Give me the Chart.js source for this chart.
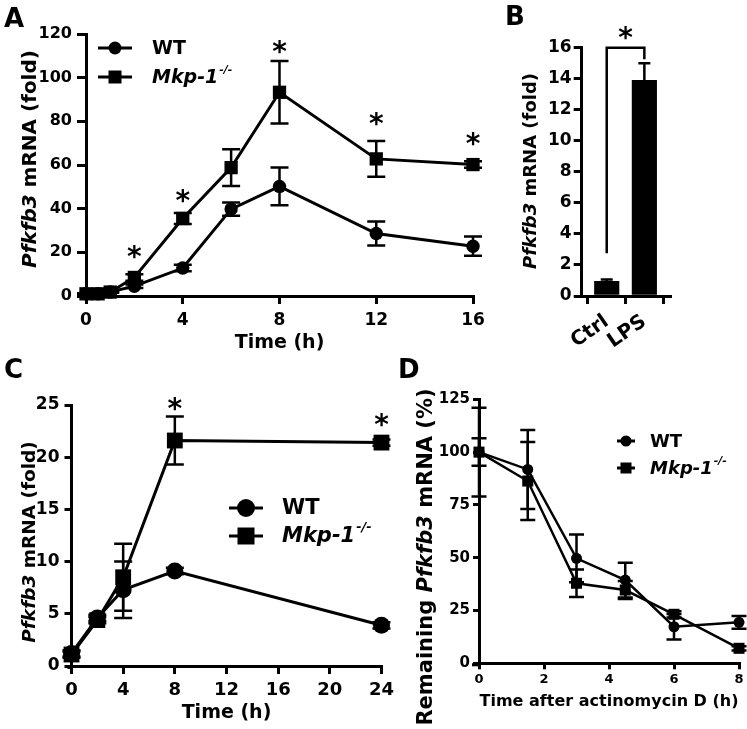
<!DOCTYPE html>
<html><head><meta charset="utf-8">
<script src="https://cdn.jsdelivr.net/npm/chart.js@4.4.0/dist/chart.umd.min.js"></script>
<style>
html,body{margin:0;padding:0;background:#fff;}
body{width:747px;height:729px;position:relative;overflow:hidden;font-family:"DejaVu Sans",sans-serif;}
canvas{position:absolute;}
.t{position:absolute;font-weight:bold;color:#000;white-space:nowrap;line-height:1;}
.rot{transform:translate(-50%,-50%) rotate(-90deg);transform-origin:center center;}
.letter{font-size:26px;}
</style></head><body>
<canvas id="cA" width="500" height="365" style="left:0;top:0"></canvas>
<canvas id="cB" width="247" height="365" style="left:500px;top:0"></canvas>
<canvas id="cC" width="400" height="364" style="left:0;top:365px"></canvas>
<canvas id="cD" width="347" height="364" style="left:400px;top:365px"></canvas>

<div class="t letter" style="left:4px;top:5px">A</div>
<div class="t letter" style="left:505px;top:3px">B</div>
<div class="t letter" style="left:4px;top:356px">C</div>
<div class="t letter" style="left:398px;top:356px">D</div>

<div class="t rot" style="left:29px;top:159px;font-size:20px"><i>Pfkfb3</i> mRNA (fold)</div>
<div class="t rot" style="left:530px;top:171px;font-size:18px"><i>Pfkfb3</i> mRNA (fold)</div>
<div class="t rot" style="left:29px;top:542px;font-size:18.5px"><i>Pfkfb3</i> mRNA (fold)</div>
<div class="t rot" style="left:425px;top:557px;font-size:21px">Remaining <i>Pfkfb3</i> mRNA (%)</div>

<script>
// ---------- DATA ----------
// Panel A
const timeA = [0, 0.5, 1, 2, 4, 6, 8, 12, 16];
const wtA = [1, 1, 1.8, 4.5, 12.8, 39.8, 50.2, 28.6, 22.8];
const wtErrA = [0.2, 0.2, 0.3, 0.8, 1.5, 3.0, 8.6, 5.5, 4.4];
const koA = [1, 1, 1.8, 8.5, 35.5, 58.8, 93.3, 62.8, 60.2];
const koErrA = [0.2, 0.2, 0.3, 1.5, 2.5, 8.4, 14.3, 8.2, 1.5];
const sigTimeA = [2, 4, 8, 12, 16];
const sigYA = [20.6, 46.6, 114.6, 81.5, 72.3];
const xTicksA = [0, 4, 8, 12, 16];
const yTicksA = [0, 20, 40, 60, 80, 100, 120];

// Panel B
const categoriesB = ['Ctrl', 'LPS'];
const valuesB = [0.95, 13.9];
const errB = [0.12, 1.1];
const bracketB = [2.75, 16, 15.25]; // left foot, top, right foot
const sigYB = 17.0;
const yTicksB = [0, 2, 4, 6, 8, 10, 12, 14, 16];

// Panel C
const timeC = [0, 2, 4, 8, 24];
const wtC = [1.2, 4.6, 7.3, 9.1, 3.9];
const wtErrC = [0.3, 0.3, 2.7, 0.3, 0.3];
const koC = [1.1, 4.4, 8.5, 21.6, 21.4];
const koErrC = [0.3, 0.3, 3.2, 2.3, 0.3];
const sigTimeC = [8, 24];
const sigYC = [25.2, 23.7];
const xTicksC = [0, 4, 8, 12, 16, 20, 24];
const yTicksC = [0, 5, 10, 15, 20, 25];

// Panel D
const timeD = [0, 1.5, 3, 4.5, 6, 8];
const wtD = [100, 91.8, 49.7, 39.4, 17.3, 19.4];
const wtErrD = [6.5, 18.7, 11.3, 8.2, 6.0, 3.0];
const koD = [100, 86.3, 37.9, 34.7, 23.2, 7.1];
const koErrD = [21, 18.5, 6.5, 4.3, 1.5, 1.0];
const xTicksD = [0, 2, 4, 6, 8];
const yTicksD = [0, 25, 50, 75, 100, 125];

const seriesNames = ['WT', 'Mkp-1'];
const koSup = '-/-';

// ---------- HELPERS ----------
const FAM = 'DejaVu Sans';
const BLACK = '#000';
function pts(xs, ys) { return xs.map((x, i) => ({x: x, y: ys[i]})); }

const errbars = {
  id: 'errbars',
  _draw(chart, o) {
    const {ctx} = chart; const xs = chart.scales.x, ys = chart.scales.y;
    ctx.save(); ctx.strokeStyle = BLACK; ctx.lineWidth = o.lineWidth; ctx.lineCap = 'butt';
    chart.data.datasets.forEach(ds => {
      if (!ds.err) return;
      ds.data.forEach((p, j) => {
        const e = ds.err[j]; if (!e) return;
        const px = xs.getPixelForValue(p.x);
        const top = ys.getPixelForValue(p.y + e);
        const bot = ys.getPixelForValue(o.upperOnly ? p.y : p.y - e);
        ctx.beginPath();
        ctx.moveTo(px, bot); ctx.lineTo(px, top);
        ctx.moveTo(px - o.cap, top); ctx.lineTo(px + o.cap, top);
        if (!o.upperOnly) { ctx.moveTo(px - o.cap, bot); ctx.lineTo(px + o.cap, bot); }
        ctx.stroke();
      });
    });
    ctx.restore();
  },
  beforeDatasetsDraw(chart, args, o) { if (o && o.lineWidth && !o.after) this._draw(chart, o); },
  afterDatasetsDraw(chart, args, o) { if (o && o.lineWidth && o.after) this._draw(chart, o); }
};

// short extension of the x axis line to the left of the y axis (GraphPad style)
const axisExt = {
  id: 'axisExt',
  afterDraw(chart, args, o) {
    if (!o || !o.len) return;
    const {ctx, chartArea} = chart;
    ctx.save(); ctx.strokeStyle = BLACK; ctx.lineWidth = 3;
    ctx.beginPath(); ctx.moveTo(chartArea.left - o.len, chartArea.bottom + 1.5); ctx.lineTo(chartArea.left, chartArea.bottom + 1.5); ctx.stroke();
    ctx.restore();
  }
};

const sigmarks = {
  id: 'sigmarks',
  afterDraw(chart, args, o) {
    if (!o || !o.xs) return;
    const {ctx} = chart; const xs = chart.scales.x, ys = chart.scales.y;
    ctx.save(); ctx.fillStyle = BLACK; ctx.font = 'bold ' + o.size + 'px "' + FAM + '"';
    ctx.textAlign = 'center'; ctx.textBaseline = 'alphabetic';
    o.xs.forEach((x, i) => {
      const px = xs.getPixelForValue(x), py = ys.getPixelForValue(o.ys[i]);
      ctx.fillText('*', px, py + 0.545 * o.size);
    });
    ctx.restore();
  }
};

function drawMarker(ctx, style, x, y, r) {
  ctx.beginPath();
  if (style === 'circle') ctx.arc(x, y, r, 0, Math.PI * 2);
  else ctx.rect(x - r, y - r, 2 * r, 2 * r);
  ctx.fill();
}

const lineLegend = {
  id: 'lineLegend',
  afterDraw(chart, args, o) {
    if (!o || !o.items) return;
    const {ctx} = chart;
    ctx.save(); ctx.fillStyle = BLACK; ctx.strokeStyle = BLACK;
    o.items.forEach((it, i) => {
      ctx.lineWidth = o.lineWidth;
      ctx.beginPath(); ctx.moveTo(o.x1, it.y); ctx.lineTo(o.x2, it.y); ctx.stroke();
      drawMarker(ctx, it.style, (o.x1 + o.x2) / 2, it.y, it.r);
      ctx.textBaseline = 'middle'; ctx.textAlign = 'left';
      if (i === 0) {
        ctx.font = 'bold ' + o.size + 'px "' + FAM + '"';
        ctx.fillText(seriesNames[0], o.tx, it.y + 1);
      } else {
        ctx.font = 'italic bold ' + o.size + 'px "' + FAM + '"';
        ctx.fillText(seriesNames[1], o.tx, it.y + 1);
        const w = ctx.measureText(seriesNames[1]).width;
        ctx.font = 'italic bold ' + Math.round(o.size * 0.6) + 'px "' + FAM + '"';
        ctx.fillText(koSup, o.tx + w + 1, it.y - o.size * 0.38);
      }
    });
    ctx.restore();
  }
};

const bracket = {
  id: 'bracket',
  afterDraw(chart, args, o) {
    if (!o || !o.on) return;
    const {ctx} = chart; const xs = chart.scales.x, ys = chart.scales.y;
    const x1 = xs.getPixelForValue(1), x2 = xs.getPixelForValue(2);
    ctx.save(); ctx.strokeStyle = BLACK; ctx.lineWidth = 2.5; ctx.lineJoin = 'miter';
    ctx.beginPath();
    ctx.moveTo(x1, ys.getPixelForValue(bracketB[0]));
    ctx.lineTo(x1, ys.getPixelForValue(bracketB[1]));
    ctx.lineTo(x2, ys.getPixelForValue(bracketB[1]));
    ctx.lineTo(x2, ys.getPixelForValue(bracketB[2]));
    ctx.stroke();
    ctx.fillStyle = BLACK; ctx.font = 'bold 28px "' + FAM + '"'; ctx.textAlign = 'center';
    ctx.fillText('*', (x1 + x2) / 2, ys.getPixelForValue(sigYB) + 0.545 * 28);
    ctx.restore();
  }
};

function axis(o) {
  return {
    type: 'linear', min: o.min, max: o.max, offset: false,
    afterBuildTicks: s => { s.ticks = o.ticks.map(v => ({value: v})); },
    ticks: Object.assign({color: BLACK, padding: o.pad, font: {family: FAM, weight: 'bold', size: o.size}, autoSkip: false, maxRotation: o.rot || 0, minRotation: o.rot || 0}, o.cb ? {callback: o.cb} : {}),
    grid: {display: true, drawOnChartArea: false, drawTicks: true, tickLength: o.tickLen, lineWidth: 3, color: BLACK},
    border: {display: true, width: 3, color: BLACK},
    title: o.title ? {display: true, text: o.title, color: BLACK, font: {family: FAM, weight: 'bold', size: o.titleSize}, padding: {top: 0, bottom: o.titlePad}} : {display: false},
    afterFit: s => { if (o.h !== undefined) s.height = o.h; if (o.w !== undefined) s.width = o.w; }
  };
}

function lineDatasets(xs, wt, wtE, ko, koE, rc, rs, lw) {
  const base = {borderColor: BLACK, backgroundColor: BLACK, borderWidth: lw, pointBorderWidth: 0, clip: false, tension: 0, pointHoverRadius: 0};
  return [
    Object.assign({label: seriesNames[0], data: pts(xs, wt), err: wtE, pointStyle: 'circle', pointRadius: rc}, base),
    Object.assign({label: seriesNames[1] + koSup, data: pts(xs, ko), err: koE, pointStyle: 'rect', pointRadius: rs}, base)
  ];
}

const common = {responsive: false, animation: false, events: []};

// ---------- PANEL A ----------
new Chart(document.getElementById('cA'), {
  type: 'line',
  data: {datasets: lineDatasets(timeA, wtA, wtErrA, koA, koErrA, 6.7, 9.4, 3)},
  options: Object.assign({}, common, {
    layout: {padding: {left: 0, top: 34, right: 27, bottom: 0}},
    plugins: {
      legend: {display: false}, tooltip: {enabled: false},
      errbars: {lineWidth: 2.5, cap: 9},
      axisExt: {len: 5},
      sigmarks: {xs: sigTimeA, ys: sigYA, size: 28},
      lineLegend: {x1: 98, x2: 132, tx: 152, size: 19, lineWidth: 3, items: [{y: 48, style: 'circle', r: 6.5}, {y: 77, style: 'rect', r: 6.5}]}
    },
    scales: {
      x: axis({min: 0, max: 16, ticks: xTicksA, size: 17, pad: 6, tickLen: 8, h: 69, title: 'Time (h)', titleSize: 19, titlePad: 11}),
      y: axis({min: 0, max: 120, ticks: yTicksA, size: 16, pad: 5, tickLen: 9, w: 86})
    }
  }),
  plugins: [errbars, axisExt, sigmarks, lineLegend]
});

// ---------- PANEL B ----------
new Chart(document.getElementById('cB'), {
  type: 'bar',
  data: {datasets: [{data: pts([1, 2], valuesB), err: errB, backgroundColor: BLACK, borderWidth: 0, barThickness: 24.5}]},
  options: Object.assign({}, common, {
    layout: {padding: {left: 0, top: 47.7, right: 76.3, bottom: 0}},
    plugins: {
      legend: {display: false}, tooltip: {enabled: false},
      errbars: {lineWidth: 2.5, cap: 6, upperOnly: true, after: true},
      bracket: {on: true}
    },
    scales: {
      x: axis({min: 0.335, max: 2.70, ticks: [1, 2], size: 20, pad: 6, tickLen: 8, h: 69, rot: 35, cb: v => categoriesB[v - 1]}),
      y: axis({min: 0, max: 16, ticks: yTicksB, size: 17, pad: 2, tickLen: 8, w: 81.7})
    }
  }),
  plugins: [errbars, bracket]
});

// ---------- PANEL C ----------
new Chart(document.getElementById('cC'), {
  type: 'line',
  data: {datasets: lineDatasets(timeC, wtC, wtErrC, koC, koErrC, 8.5, 11.2, 3)},
  options: Object.assign({}, common, {
    layout: {padding: {left: 0, top: 40, right: 18.3, bottom: 0}},
    plugins: {
      legend: {display: false}, tooltip: {enabled: false},
      errbars: {lineWidth: 2.5, cap: 9},
      axisExt: {len: 4},
      sigmarks: {xs: sigTimeC, ys: sigYC, size: 28},
      lineLegend: {x1: 229, x2: 263, tx: 282, size: 21, lineWidth: 3, items: [{y: 143, style: 'circle', r: 9}, {y: 171, style: 'rect', r: 8.5}]}
    },
    scales: {
      x: axis({min: 0, max: 24, ticks: xTicksC, size: 18, pad: 6, tickLen: 8, h: 63, title: 'Time (h)', titleSize: 19, titlePad: 5}),
      y: axis({min: 0, max: 25, ticks: yTicksC, size: 17, pad: 5, tickLen: 7, w: 71.5})
    }
  }),
  plugins: [errbars, axisExt, sigmarks, lineLegend]
});

// ---------- PANEL D ----------
new Chart(document.getElementById('cD'), {
  type: 'line',
  data: {datasets: lineDatasets(timeD, wtD, wtErrD, koD, koErrD, 5.5, 7.8, 2.5)},
  options: Object.assign({}, common, {
    layout: {padding: {left: 0, top: 34.3, right: 8, bottom: 0}},
    plugins: {
      legend: {display: false}, tooltip: {enabled: false},
      errbars: {lineWidth: 2.5, cap: 7.5},
      axisExt: {len: 7},
      lineLegend: {x1: 217, x2: 235, tx: 250, size: 18, lineWidth: 3, items: [{y: 76, style: 'circle', r: 5.5}, {y: 103, style: 'rect', r: 5.5}]}
    },
    scales: {
      x: axis({min: 0, max: 8, ticks: xTicksD, size: 13, pad: 3, tickLen: 6, h: 65.7, title: 'Time after actinomycin D (h)', titleSize: 16, titlePad: 18}),
      y: axis({min: 0, max: 125, ticks: yTicksD, size: 15, pad: 3, tickLen: 6, w: 79})
    }
  }),
  plugins: [errbars, axisExt, lineLegend]
});
</script>
</body></html>
